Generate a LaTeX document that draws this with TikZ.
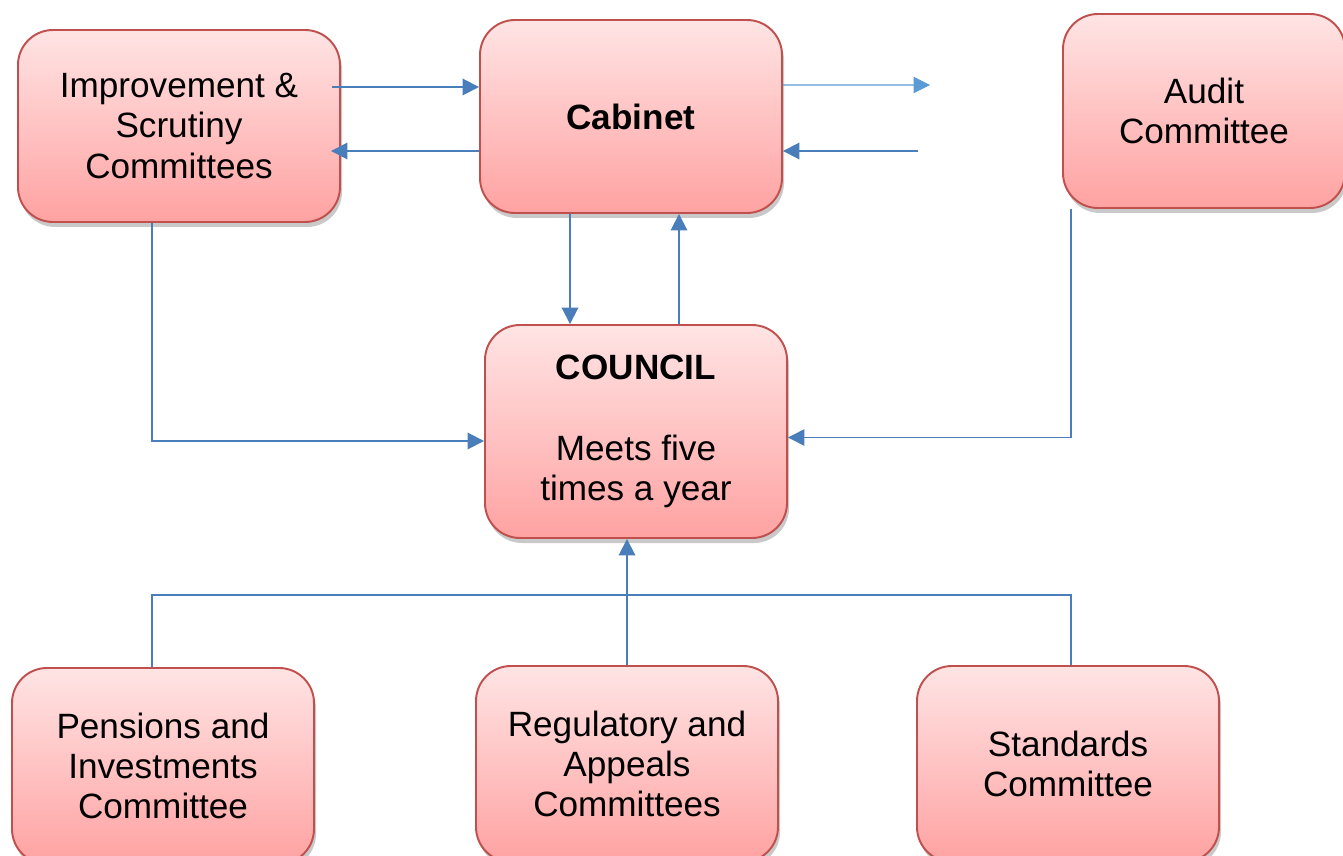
\documentclass[tikz,border=0pt]{standalone}
\usepackage{fontspec}
\setmainfont{Liberation Sans}
\usetikzlibrary{arrows.meta,shadows}
\definecolor{boxline}{HTML}{C0504D}
\definecolor{boxtop}{HTML}{FFE4E4}
\definecolor{boxbot}{HTML}{FFA2A2}
\definecolor{linkblue}{HTML}{4A7EBB}
\definecolor{lightblue}{HTML}{5B9BD5}

\begin{document}
\begin{tikzpicture}[box/.style={draw=boxline,line width=1.1pt,rounded corners=7mm,
    top color=boxtop,bottom color=boxbot,align=center,inner sep=0pt,
    minimum width=6.04cm,minimum height=3.9cm,font=\fontsize{20}{23}\selectfont,
    drop shadow={shadow xshift=0.4mm,shadow yshift=-1mm,opacity=0.3,fill=black!70}},
  link/.style={draw=linkblue,line width=1.1pt},
  tip/.style={-{Triangle[length=3.3mm,width=3.3mm]}}]
\useasboundingbox (0,0) rectangle (26.86,-17.12);

\node[box,minimum width=6.44cm,minimum height=3.84cm] (impr) at (3.58,-2.52) {Improvement \&\\Scrutiny\\Committees};
\node[box,minimum height=3.86cm] (cabinet) at (12.62,-2.33) {\textbf{Cabinet}};
\node[box,minimum width=5.64cm,minimum height=3.88cm] (audit) at (24.08,-2.22) {Audit\\Committee};
\node[box,minimum height=4.26cm] (council) at (12.72,-8.63) {\textbf{COUNCIL}\\[23pt]Meets five\\times a year};
\node[box,minimum height=3.92cm] (pensions) at (3.26,-15.32) {Pensions and\\Investments\\Committee};
\node[box,minimum height=3.92cm] (regul) at (12.54,-15.28) {Regulatory and\\Appeals\\Committees};
\node[box,minimum height=3.92cm] (standards) at (21.36,-15.28) {Standards\\Committee};

\coordinate (cabout) at (18.6,-1.70);
\coordinate (cabin) at (18.36,-3.02);
\coordinate (bus) at (0,-11.9);

\draw[link,tip] ([xshift=-1.8mm,yshift=7.8mm]impr.east) -- ([yshift=7.8mm]impr.east -| cabinet.west);
\draw[link,tip] ([yshift=-6.9mm]cabinet.west) -- ([xshift=-2mm,yshift=-6.9mm]cabinet.west -| impr.east);
\draw[link,draw=lightblue,line width=0.6pt,-{Triangle[length=3.3mm,width=3.3mm,fill=lightblue]}] ([yshift=6.3mm]cabinet.east) -- (cabout);
\draw[link,tip] (cabin) -- (cabin -| cabinet.east);
\draw[link,tip] ([xshift=-12.2mm]cabinet.south) -- ([xshift=-12.2mm]cabinet.south |- council.north);
\draw[link,tip] ([xshift=8.6mm]council.north) -- ([xshift=8.6mm]council.north |- cabinet.south);
\draw[link,tip] ([xshift=-5.4mm]impr.south) |- ([yshift=-1.9mm]council.west);
\draw[link,tip,line width=0.8pt] ([xshift=1.8mm]audit.south west) |- ([yshift=-1.2mm]council.east);
\draw[link] ([xshift=-2.2mm]pensions.north) |- ([xshift=0.6mm]standards.north |- bus) -- ([xshift=0.6mm]standards.north);
\draw[link,tip] (regul.north) -- (regul.north |- council.south);
\end{tikzpicture}
\end{document}
